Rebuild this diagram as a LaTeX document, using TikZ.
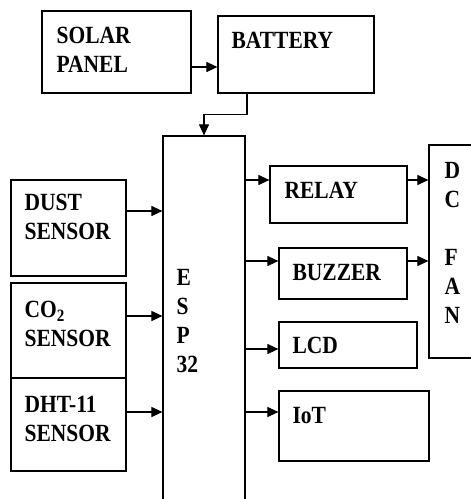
\documentclass[tikz,border=0pt]{standalone}
\usepackage{fontspec}
\usepackage{graphicx}
\setmainfont{Liberation Serif}
\usetikzlibrary{arrows.meta, positioning}

% block text, set a little taller than wide
\newcommand{\tall}[1]{\scalebox{1}[1.15]{\begin{tabular}{@{}l@{}}#1\end{tabular}}}

\begin{document}
\begin{tikzpicture}[x=1pt, y=-1pt,
  blk/.style={draw, line width=1.2pt, inner sep=0pt},
  lbl/.style={inner sep=0pt, align=left, font=\fontsize{21.5}{25.2}\selectfont\bfseries},
  arr/.style={line width=1.1pt, -{Triangle[length=11pt,width=10pt]}}
]
  \useasboundingbox (0,0) rectangle (471,499);

  % blocks
  \node[blk, minimum width=149pt, minimum height=82pt] (solar) at (116.5,52) {};
  \node[blk, minimum width=156pt, minimum height=77pt] (battery) at (296,54.5) {};
  \node[blk, minimum width=82pt, minimum height=374pt] (esp) at (204,323) {};
  \node[blk, minimum width=56pt, minimum height=213pt] (fan) at (457,251.5) {};
  \node[blk, minimum width=137pt, minimum height=57pt] (relay) at (338.5,194.5) {};
  \node[blk, minimum width=128pt, minimum height=51pt] (buzzer) at (343,273.5) {};
  \node[blk, minimum width=138pt, minimum height=46pt] (lcd) at (348,345) {};
  \node[blk, minimum width=150pt, minimum height=70pt] (iot) at (354,426) {};
  \node[blk, minimum width=115pt, minimum height=96pt] (dust) at (68.5,228) {};
  \node[blk, minimum width=115pt, minimum height=95pt] (co2) at (68.5,330.5) {};
  \node[blk, minimum width=115pt, minimum height=93pt] (dht) at (68.5,424.5) {};

  % labels
  \node[lbl, below right=13pt and 15pt of solar.north west] (solartext) {\tall{SOLAR\\PANEL}};
  \node[lbl, below right=13pt and 14pt of battery.north west] (batterytext) {\tall{BATTERY}};
  \node[lbl, below right=130pt and 14pt of esp.north west] (esptext) {\tall{E\\S\\P\\32}};
  \node[lbl, below right=14pt and 16pt of fan.north west] (fantext) {\tall{D\\C\\\\F\\A\\N}};
  \node[lbl, below right=13pt and 15pt of relay.north west] (relaytext) {\tall{RELAY}};
  \node[lbl, below right=13pt and 14pt of buzzer.north west] (buzzertext) {\tall{BUZZER}};
  \node[lbl, below right=12pt and 14pt of lcd.north west] (lcdtext) {\tall{LCD}};
  \node[lbl, below right=13pt and 14pt of iot.north west] (iottext) {\tall{IoT}};
  \node[lbl, below right=11pt and 14pt of dust.north west] (dusttext) {\tall{DUST\\SENSOR}};
  \node[lbl, below right=15pt and 14pt of co2.north west] (co2text) {\tall{CO\textsubscript{2}\\SENSOR}};
  \node[lbl, below right=15pt and 14pt of dht.north west] (dhttext) {\tall{DHT-11\\SENSOR}};

  % power
  \draw[arr] (solar.east |- 0,67) -- (battery.west |- 0,67);
  \draw[arr] ([xshift=-49pt]battery.south) -- ++(0,21) -| (esp.north);

  % inputs
  \foreach \src/\yy in {dust/211, co2/316, dht/412}
    \draw[arr] (\src.east |- 0,\yy) -- (esp.west |- 0,\yy);

  % outputs
  \draw[arr] (esp.east |- 0,180) -- (relay.west |- 0,180);
  \draw[arr] (esp.east |- 0,261) -- (buzzer.west |- 0,261);
  \draw[arr] (esp.east |- 0,349) -- (lcd.west |- 0,349);
  \draw[arr] (esp.east |- 0,412) -- (iot.west |- 0,412);
  \draw[arr] (relay.east |- 0,180) -- (fan.west |- 0,180);
  \draw[arr] (buzzer.east |- 0,261) -- (fan.west |- 0,261);
\end{tikzpicture}
\end{document}
